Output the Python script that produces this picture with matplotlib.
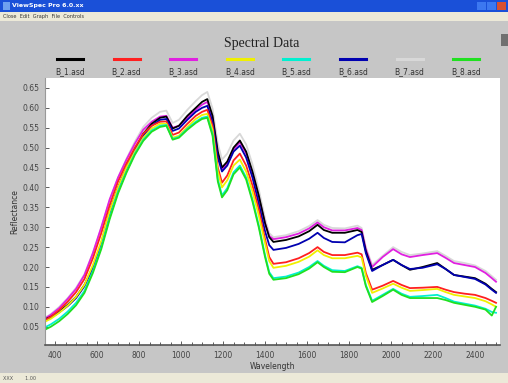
import matplotlib
matplotlib.use("Agg")
import matplotlib.pyplot as plt
from matplotlib.patches import Rectangle
from matplotlib.lines import Line2D
from matplotlib.ticker import MultipleLocator, FormatStrFormatter

# ---------------- data ----------------
wavelength = [350, 380, 420, 460, 500, 540, 580, 620, 660, 700, 740, 780, 820, 860, 900, 930,
              960, 990, 1030, 1070, 1100, 1125, 1150, 1175, 1195, 1220, 1250, 1280, 1310, 1340,
              1370, 1400, 1420, 1440, 1500, 1560, 1610, 1650, 1680, 1720, 1780, 1840, 1860, 1880,
              1910, 1960, 2010, 2050, 2090, 2150, 2220, 2260, 2300, 2350, 2400, 2450, 2480, 2500]

b1 = [0.068, 0.075, 0.088, 0.105, 0.125, 0.155, 0.200, 0.260, 0.340, 0.400, 0.450, 0.495, 0.535, 0.560, 0.575, 0.578,
      0.548, 0.555, 0.580, 0.600, 0.615, 0.622, 0.580, 0.490, 0.450, 0.465, 0.500, 0.518, 0.490, 0.440,
      0.380, 0.310, 0.275, 0.263, 0.268, 0.277, 0.290, 0.306, 0.293, 0.286, 0.286, 0.293, 0.288, 0.240,
      0.193, 0.205, 0.218, 0.205, 0.193, 0.200, 0.210, 0.195, 0.180, 0.176, 0.172, 0.158, 0.145, 0.137]

b2 = [0.066, 0.075, 0.092, 0.113, 0.137, 0.170, 0.222, 0.285, 0.355, 0.415, 0.460, 0.500, 0.535, 0.555, 0.565, 0.566,
      0.532, 0.538, 0.560, 0.580, 0.590, 0.595, 0.555, 0.450, 0.412, 0.430, 0.468, 0.485, 0.455, 0.405,
      0.345, 0.270, 0.225, 0.208, 0.212, 0.222, 0.235, 0.250, 0.238, 0.230, 0.230, 0.236, 0.232, 0.185,
      0.143, 0.153, 0.165, 0.155, 0.147, 0.148, 0.150, 0.143, 0.137, 0.133, 0.130, 0.122, 0.115, 0.110]

b3 = [0.070, 0.080, 0.097, 0.120, 0.145, 0.180, 0.235, 0.300, 0.370, 0.425, 0.470, 0.510, 0.545, 0.565, 0.578, 0.580,
      0.550, 0.555, 0.575, 0.595, 0.608, 0.615, 0.575, 0.485, 0.445, 0.460, 0.495, 0.513, 0.485, 0.435,
      0.375, 0.310, 0.278, 0.270, 0.275, 0.284, 0.297, 0.312, 0.300, 0.292, 0.292, 0.298, 0.293, 0.245,
      0.200, 0.225, 0.245, 0.232, 0.225, 0.230, 0.235, 0.223, 0.210, 0.205, 0.200, 0.185, 0.172, 0.163]

b4 = [0.062, 0.070, 0.085, 0.103, 0.125, 0.155, 0.205, 0.265, 0.340, 0.400, 0.450, 0.490, 0.525, 0.548, 0.560, 0.560,
      0.525, 0.530, 0.552, 0.572, 0.582, 0.585, 0.545, 0.440, 0.400, 0.418, 0.455, 0.470, 0.440, 0.390,
      0.330, 0.260, 0.215, 0.198, 0.203, 0.213, 0.226, 0.242, 0.230, 0.222, 0.222, 0.228, 0.224, 0.178,
      0.135, 0.146, 0.158, 0.148, 0.140, 0.142, 0.145, 0.137, 0.130, 0.126, 0.122, 0.114, 0.106, 0.100]

b5 = [0.048, 0.056, 0.070, 0.088, 0.110, 0.140, 0.190, 0.250, 0.325, 0.390, 0.440, 0.485, 0.520, 0.543, 0.555, 0.557,
      0.522, 0.527, 0.548, 0.565, 0.575, 0.578, 0.535, 0.420, 0.380, 0.398, 0.438, 0.455, 0.425, 0.370,
      0.305, 0.230, 0.187, 0.172, 0.176, 0.186, 0.200, 0.215, 0.203, 0.192, 0.190, 0.202, 0.198, 0.155,
      0.115, 0.130, 0.145, 0.133, 0.125, 0.127, 0.130, 0.122, 0.113, 0.108, 0.103, 0.095, 0.087, 0.085]

b6 = [0.066, 0.073, 0.086, 0.102, 0.122, 0.152, 0.197, 0.257, 0.335, 0.397, 0.447, 0.492, 0.530, 0.555, 0.570, 0.572,
      0.542, 0.548, 0.570, 0.590, 0.600, 0.605, 0.565, 0.475, 0.440, 0.455, 0.490, 0.505, 0.475, 0.425,
      0.360, 0.290, 0.255, 0.243, 0.248, 0.258, 0.271, 0.286, 0.273, 0.263, 0.262, 0.280, 0.283, 0.235,
      0.190, 0.205, 0.218, 0.205, 0.195, 0.198, 0.207, 0.195, 0.180, 0.175, 0.170, 0.156, 0.143, 0.135]

b7 = [0.072, 0.082, 0.100, 0.122, 0.148, 0.182, 0.235, 0.298, 0.368, 0.425, 0.472, 0.515, 0.552, 0.575, 0.590, 0.593,
      0.562, 0.570, 0.595, 0.617, 0.632, 0.640, 0.598, 0.510, 0.470, 0.485, 0.518, 0.535, 0.508, 0.458,
      0.395, 0.322, 0.285, 0.275, 0.280, 0.290, 0.303, 0.318, 0.306, 0.298, 0.297, 0.304, 0.298, 0.250,
      0.205, 0.228, 0.250, 0.238, 0.230, 0.234, 0.240, 0.228, 0.215, 0.210, 0.204, 0.190, 0.177, 0.168]

b8 = [0.042, 0.050, 0.064, 0.082, 0.104, 0.135, 0.185, 0.245, 0.320, 0.385, 0.437, 0.482, 0.517, 0.540, 0.552, 0.555,
      0.520, 0.525, 0.545, 0.562, 0.572, 0.575, 0.530, 0.415, 0.375, 0.393, 0.433, 0.450, 0.420, 0.365,
      0.300, 0.225, 0.183, 0.168, 0.172, 0.182, 0.196, 0.212, 0.200, 0.188, 0.187, 0.200, 0.196, 0.152,
      0.112, 0.127, 0.143, 0.130, 0.122, 0.122, 0.122, 0.117, 0.110, 0.105, 0.100, 0.093, 0.078, 0.100]

series_names = ["B_1.asd", "B_2.asd", "B_3.asd", "B_4.asd", "B_5.asd", "B_6.asd", "B_7.asd", "B_8.asd"]
series_values = [b1, b2, b3, b4, b5, b6, b7, b8]
series_colors = ["#000000", "#ff2020", "#e020e0", "#f0f000", "#00f0d0", "#0000b0", "#d8d8d8", "#20e020"]
draw_order = [6, 2, 0, 5, 1, 3, 4, 7]

x_ticks = [400, 600, 800, 1000, 1200, 1400, 1600, 1800, 2000, 2200, 2400]

# ---------------- figure ----------------
W, H = 508, 383
fig = plt.figure(figsize=(W / 100, H / 100), dpi=100)
fig.patch.set_facecolor("#c6c6c6")


def rect(x, y, w, h, color, z=0):
    fig.patches.append(Rectangle((x / W, 1 - (y + h) / H), w / W, h / H,
                                 transform=fig.transFigure, facecolor=color,
                                 edgecolor="none", zorder=z))


def ftext(x, y, s, **kw):
    fig.text(x / W, 1 - y / H, s, **kw)


# window chrome
rect(0, 0, W, 12, "#1a50d8")
ftext(12, 6, "ViewSpec Pro 6.0.xx", color="white", fontsize=4.5, fontweight="bold", va="center")
rect(3, 2, 7, 8, "#6ea0f0")
for i, c in enumerate(["#3c78f0", "#3c78f0", "#d85030"]):
    rect(477 + i * 10, 2, 9, 8, c)
rect(0, 12, W, 9, "#ece9d8")
ftext(3, 16.5, "Close  Edit  Graph  File  Controls", color="#333333", fontsize=3.6, va="center")
rect(0, 373, W, 10, "#ece9d8")
ftext(3, 378.5, "XXX        1.00", color="#555555", fontsize=3.5, va="center")
rect(501, 34, 7, 12, "#707070")

ftext(262, 43, "Spectral Data", fontsize=10, family="Liberation Serif", ha="center", va="center",
      color="#222222")

# legend
leg_x0, leg_dx = 70, 56.6
for i, (name, col) in enumerate(zip(series_names, series_colors)):
    cx = leg_x0 + i * leg_dx
    fig.lines.append(Line2D([(cx - 13) / W, (cx + 13) / W], [1 - 59 / H, 1 - 59 / H],
                            transform=fig.transFigure, color=col, lw=2.2))
    ftext(cx, 72, name, fontsize=5.5, ha="center", va="center", color="#333333")

# axes
left, right, top, bottom = 45, 500, 78, 345
ax = fig.add_axes([left / W, 1 - bottom / H, (right - left) / W, (bottom - top) / H])
ax.set_facecolor("white")
for k in draw_order:
    ax.plot(wavelength, series_values[k], color=series_colors[k], lw=1.3, solid_joinstyle="round")

ax.set_xlim(352, 2519)
ax.set_ylim(0.004, 0.675)
ax.set_xticks(x_ticks)
ax.xaxis.set_minor_locator(MultipleLocator(50))
ax.yaxis.set_major_locator(MultipleLocator(0.05))
ax.yaxis.set_major_formatter(FormatStrFormatter("%.2f"))
ax.tick_params(axis="both", which="both", direction="in", labelsize=5.5, colors="#444444",
               length=3, width=0.6, pad=4)
ax.tick_params(which="minor", length=2)
for s in ["top", "right"]:
    ax.spines[s].set_visible(False)
ax.spines["left"].set_color("#999999")
ax.spines["bottom"].set_color("#555555")
ax.spines["bottom"].set_linewidth(1.2)
ax.set_xlabel("Wavelength", fontsize=5.5, color="#333333", labelpad=2)
ax.set_ylabel("Reflectance", fontsize=5.5, color="#333333", labelpad=2)

fig.savefig("out.png", dpi=100, facecolor=fig.get_facecolor())
